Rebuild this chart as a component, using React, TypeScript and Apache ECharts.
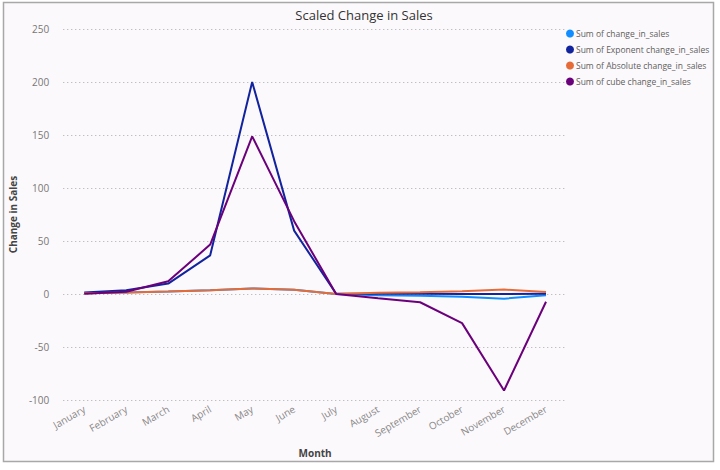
import React, { useEffect, useRef } from "react";
import * as echarts from "echarts";

const months = ["January", "February", "March", "April", "May", "June", "July", "August", "September", "October", "November", "December"];
const changeInSales = [0.7, 1.3, 2.3, 3.6, 5.2, 4.1, 0, -1.1, -1.6, -2.6, -4.4, -1.2];
const exponentChange = [1.5, 3.5, 9.8, 36.5, 200, 59.8, 0.2, 0.3, 0.2, 0.07, 0.01, 0.3];
const absoluteChange = [0.7, 1.3, 2.3, 3.6, 5.2, 4.1, 0, 1.1, 1.6, 2.6, 4.2, 1.9];
const cubeChange = [0.3, 2.2, 12, 46.6, 148.7, 68.7, 0, -4, -7.8, -27.5, -91, -7.3];

const seriesNames = [
  "Sum of change_in_sales",
  "Sum of Exponent change_in_sales",
  "Sum of Absolute change_in_sales",
  "Sum of cube change_in_sales",
];
const seriesColors = ["#118DFF", "#12239E", "#E66C37", "#6B007B"];

export default function App() {
  const ref = useRef<HTMLDivElement>(null);
  useEffect(() => {
    document.body.style.margin = "0";
    const chart = echarts.init(ref.current!, null, { renderer: "svg" });
    const data = [changeInSales, exponentChange, absoluteChange, cubeChange];
    const font = "'Open Sans', 'Noto Sans', sans-serif";
    chart.setOption({
      animation: false,
      backgroundColor: "#ffffff",
      textStyle: { fontFamily: font },
      graphic: [
        {
          type: "rect",
          z: -10,
          silent: true,
          shape: { x: 3.5, y: 2.5, width: 710, height: 459 },
          style: { fill: "#fcf9fc", stroke: "#a8a8a8", lineWidth: 1.5 },
        },
      ],
      title: {
        text: "Scaled Change in Sales",
        left: 359,
        textAlign: "center",
        top: 3,
        textStyle: { fontSize: 13, fontWeight: "normal", color: "#333333", fontFamily: font },
      },
      legend: {
        orient: "vertical",
        left: 561,
        top: 24,
        itemWidth: 8,
        itemHeight: 8,
        itemGap: 7,
        icon: "circle",
        textStyle: { fontSize: 8.5, color: "#605e5c", fontFamily: font, padding: [0, 0, 0, -3] },
        data: seriesNames,
      },
      grid: { left: 44, right: 153, top: 29, bottom: 70, containLabel: false },
      xAxis: {
        type: "category",
        data: months,
        boundaryGap: true,
        name: "Month",
        nameLocation: "middle",
        nameGap: 48,
        nameTextStyle: { fontSize: 10, color: "#444444", fontWeight: "bold", fontFamily: font },
        axisLine: { show: false },
        axisTick: { show: false },
        axisLabel: { rotate: 30, fontSize: 10, color: "#888888", margin: 8, interval: 0 },
        splitLine: { show: false },
      },
      yAxis: {
        type: "value",
        min: -100,
        max: 250,
        interval: 50,
        name: "Change in Sales",
        nameLocation: "middle",
        nameGap: 28,
        nameTextStyle: { fontSize: 10, color: "#444444", fontWeight: "bold", fontFamily: font },
        axisLine: { show: false },
        axisTick: { show: false },
        axisLabel: { fontSize: 10, color: "#777777", margin: 14 },
        splitLine: { show: true, lineStyle: { type: [1, 3], color: "#aaaaaa", width: 1 } },
      },
      series: seriesNames.map((n, i) => ({
        name: n,
        type: "line",
        data: data[i],
        symbol: "none",
        showSymbol: false,
        lineStyle: { width: 2, color: seriesColors[i] },
        itemStyle: { color: seriesColors[i] },
      })),
    });
    return () => chart.dispose();
  }, []);
  return <div ref={ref} style={{ width: 720, height: 470 }} />;
}
